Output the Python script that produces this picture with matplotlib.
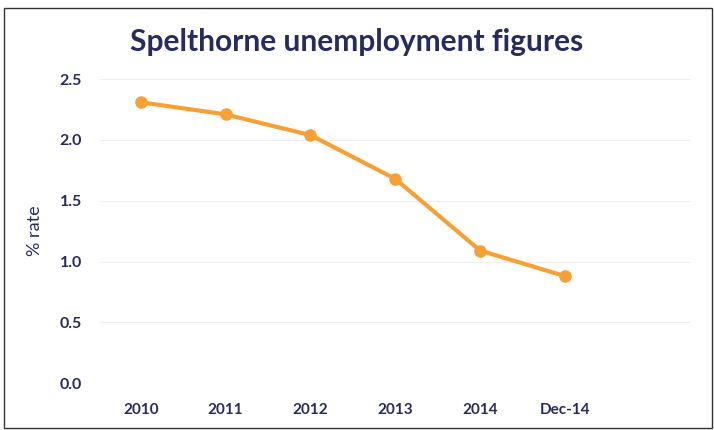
import matplotlib.pyplot as plt
from matplotlib.patches import Rectangle

# data
periods = ['2010', '2011', '2012', '2013', '2014', 'Dec-14']
rate = [2.31, 2.21, 2.04, 1.68, 1.09, 0.88]
y_ticks = [0.0, 0.5, 1.0, 1.5, 2.0, 2.5]

navy = '#262c5c'
orange = '#f7a035'

plt.rcParams['font.family'] = ['Lato', 'DejaVu Sans']

fig = plt.figure(figsize=(7.14, 4.30), dpi=100)
ax = fig.add_axes([0.14, 0.109, 0.826, 0.707])

x = list(range(len(periods)))
ax.plot(x, rate, color=orange, linewidth=3, marker='o', markersize=8,
        solid_capstyle='round')

ax.set_xlim(-0.48, 6.47)
ax.set_ylim(0, 2.5)
ax.set_xticks(x)
ax.set_xticklabels(periods, fontsize=11, fontweight='bold', color=navy)
ax.set_yticks(y_ticks)
ax.set_yticklabels([f'{v:.1f}' for v in y_ticks], fontsize=11.5,
                   fontweight='bold', color=navy)
ax.tick_params(axis='both', length=0)
ax.tick_params(axis='x', pad=14)
ax.tick_params(axis='y', pad=13)
ax.grid(axis='y', color='#eeeeee', linewidth=0.8)
ax.set_axisbelow(True)
for s in ax.spines.values():
    s.set_visible(False)

ax.set_ylabel('% rate', fontsize=13, color=navy, labelpad=12)

fig.text(0.5, 0.902, 'Spelthorne unemployment figures', ha='center',
         va='center', fontsize=21.5, fontweight='bold', color=navy)

# thin frame round the whole chart
fig.patches.append(Rectangle((0.005, 0.004), 0.992, 0.978,
                             transform=fig.transFigure, fill=False,
                             edgecolor='#333333', linewidth=1))

fig.savefig('out.png', dpi=100)
